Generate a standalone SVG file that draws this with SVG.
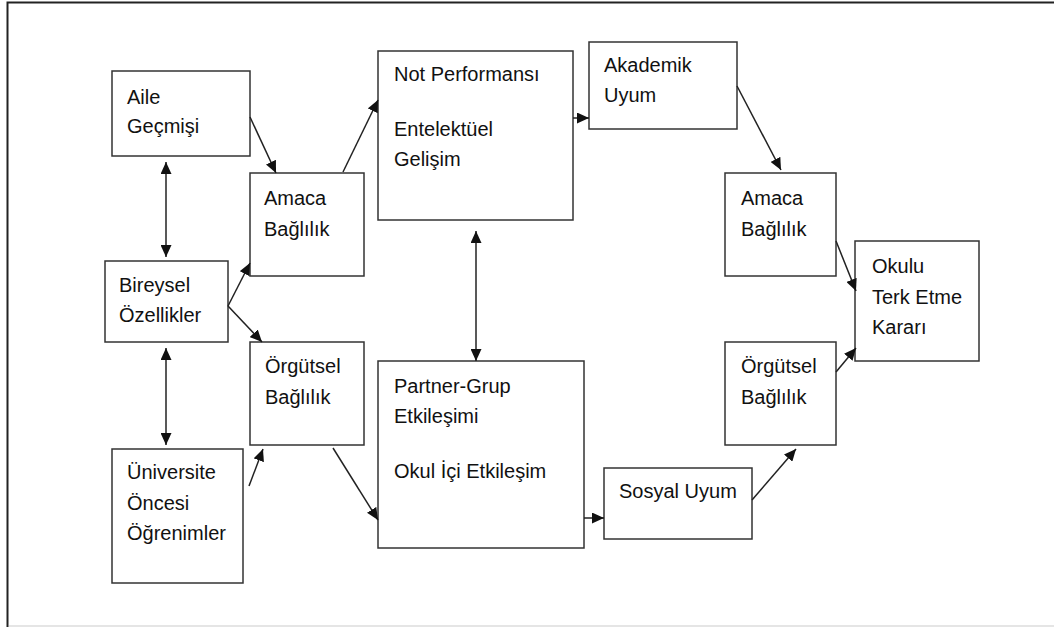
<svg xmlns="http://www.w3.org/2000/svg" width="1054" height="627" viewBox="0 0 1054 627">
  <style>
    .box { fill: #ffffff; stroke: #333333; stroke-width: 1.5; }
    .lbl { font-family: "Liberation Sans", Arial, sans-serif; font-size: 20px; fill: #111111; }
    .con { fill: none; stroke: #222222; stroke-width: 1.5; marker-end: url(#arrow); }
    .both { marker-start: url(#arrow); }
  </style>
  <defs>
    <marker id="arrow" markerUnits="userSpaceOnUse" markerWidth="12" markerHeight="11" refX="12" refY="5.5" orient="auto-start-reverse">
      <path d="M0,0 L12,5.5 L0,11 z" fill="#111111"/>
    </marker>
  </defs>

  <rect width="1054" height="627" fill="#ffffff"/>
  <!-- page frame -->
  <path d="M7.5,627 V2.5 H1054" fill="none" stroke="#222222" stroke-width="2"/>
  <line x1="9" y1="626" x2="1054" y2="626" stroke="#dddddd" stroke-width="1.5"/>

  <g id="aile">
    <rect class="box" x="112" y="71" width="138" height="85"/>
    <text class="lbl" x="127" y="104">Aile</text>
    <text class="lbl" x="127" y="133">Geçmişi</text>
  </g>
  <g id="bireysel">
    <rect class="box" x="105" y="261" width="123" height="81"/>
    <text class="lbl" x="119" y="292">Bireysel</text>
    <text class="lbl" x="119" y="322">Özellikler</text>
  </g>
  <g id="universite">
    <rect class="box" x="112" y="449" width="131" height="134"/>
    <text class="lbl" x="127" y="479">Üniversite</text>
    <text class="lbl" x="127" y="510">Öncesi</text>
    <text class="lbl" x="127" y="540">Öğrenimler</text>
  </g>
  <g id="amaca-1">
    <rect class="box" x="250" y="173" width="114" height="103"/>
    <text class="lbl" x="264" y="205">Amaca</text>
    <text class="lbl" x="264" y="236">Bağlılık</text>
  </g>
  <g id="orgutsel-1">
    <rect class="box" x="250" y="342" width="114" height="103"/>
    <text class="lbl" x="265" y="373">Örgütsel</text>
    <text class="lbl" x="265" y="404">Bağlılık</text>
  </g>
  <g id="not-performansi">
    <rect class="box" x="378" y="51" width="195" height="169"/>
    <text class="lbl" x="394" y="81">Not Performansı</text>
    <text class="lbl" x="394" y="136">Entelektüel</text>
    <text class="lbl" x="394" y="166">Gelişim</text>
  </g>
  <g id="partner-grup">
    <rect class="box" x="378" y="361" width="206" height="187"/>
    <text class="lbl" x="394" y="393">Partner-Grup</text>
    <text class="lbl" x="394" y="423">Etkileşimi</text>
    <text class="lbl" x="394" y="478">Okul İçi Etkileşim</text>
  </g>
  <g id="akademik-uyum">
    <rect class="box" x="589" y="42" width="148" height="87"/>
    <text class="lbl" x="604" y="72">Akademik</text>
    <text class="lbl" x="604" y="102">Uyum</text>
  </g>
  <g id="sosyal-uyum">
    <rect class="box" x="604" y="468" width="148" height="71"/>
    <text class="lbl" x="619" y="498">Sosyal Uyum</text>
  </g>
  <g id="amaca-2">
    <rect class="box" x="725" y="173" width="111" height="103"/>
    <text class="lbl" x="741" y="205">Amaca</text>
    <text class="lbl" x="741" y="236">Bağlılık</text>
  </g>
  <g id="orgutsel-2">
    <rect class="box" x="725" y="342" width="111" height="103"/>
    <text class="lbl" x="741" y="373">Örgütsel</text>
    <text class="lbl" x="741" y="404">Bağlılık</text>
  </g>
  <g id="okulu-terk">
    <rect class="box" x="855" y="241" width="124" height="120"/>
    <text class="lbl" x="872" y="273">Okulu</text>
    <text class="lbl" x="872" y="304">Terk Etme</text>
    <text class="lbl" x="872" y="334">Kararı</text>
  </g>

  <g id="connectors">
    <line class="con" x1="250" y1="117" x2="276" y2="173"/>
    <line class="con both" x1="166" y1="162" x2="166" y2="257"/>
    <line class="con" x1="228" y1="306" x2="250" y2="263"/>
    <line class="con" x1="228" y1="306" x2="262" y2="342"/>
    <line class="con both" x1="166" y1="348" x2="166" y2="445"/>
    <line class="con" x1="249" y1="486" x2="263" y2="449"/>
    <line class="con" x1="343" y1="172" x2="378" y2="100"/>
    <line class="con" x1="333" y1="448" x2="378" y2="520"/>
    <line class="con both" x1="476" y1="231" x2="476" y2="361"/>
    <line class="con" x1="573" y1="118" x2="589" y2="118"/>
    <line class="con" x1="737" y1="86" x2="781" y2="170"/>
    <line class="con" x1="836" y1="241" x2="856" y2="291"/>
    <line class="con" x1="584" y1="518" x2="604" y2="518"/>
    <line class="con" x1="752" y1="500" x2="796" y2="449"/>
    <line class="con" x1="836" y1="372" x2="856" y2="348"/>
  </g>
</svg>
